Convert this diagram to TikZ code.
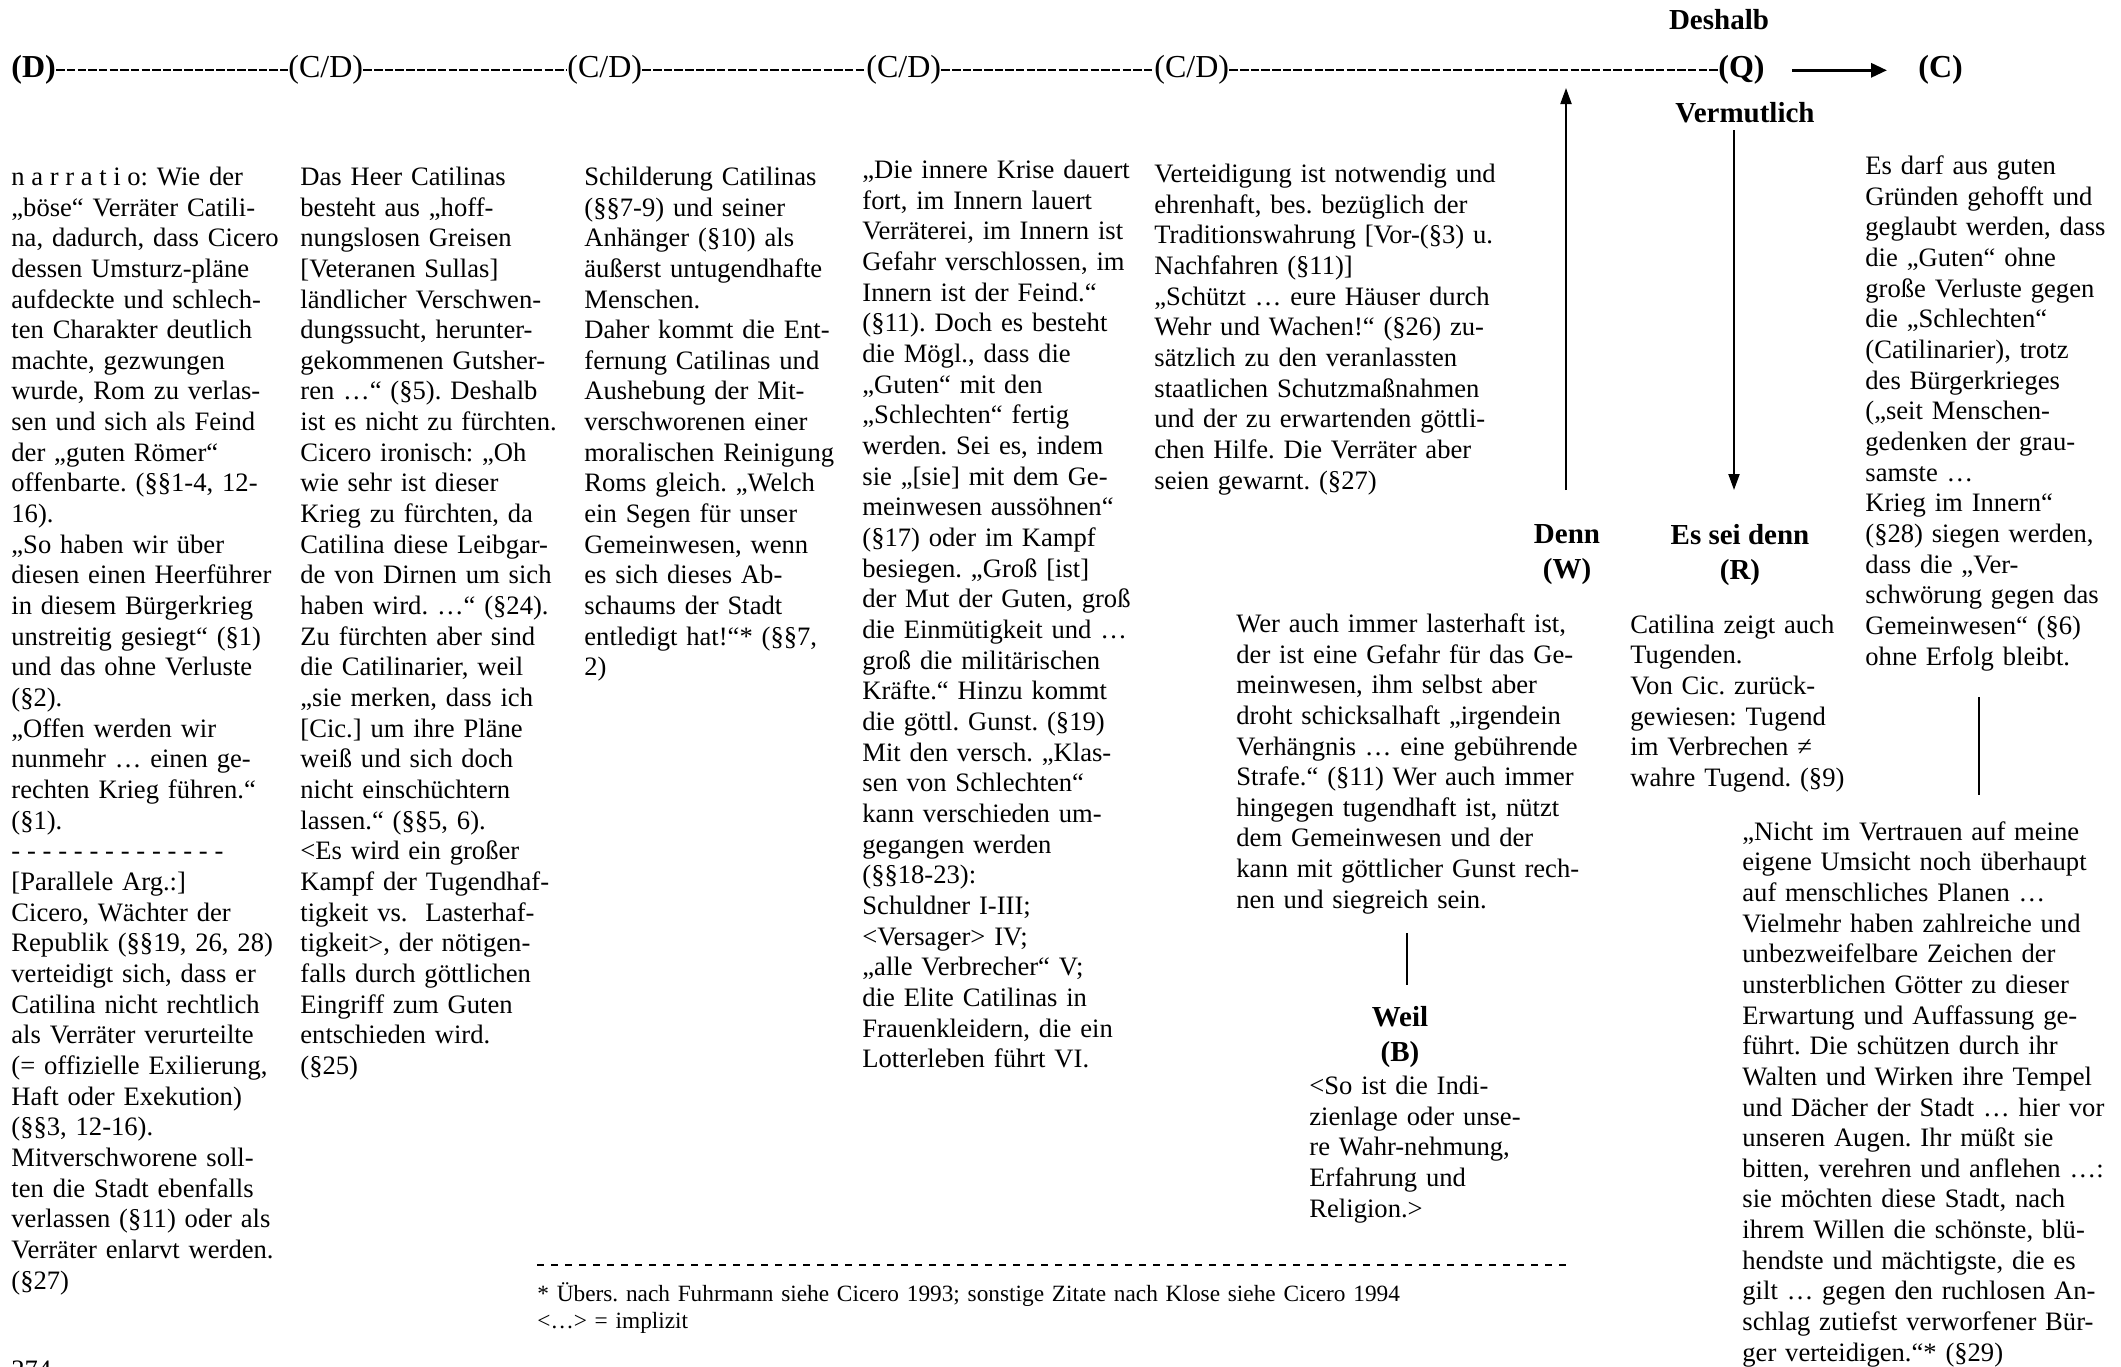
\documentclass[tikz,border=0pt]{standalone}
\usepackage{fontspec}
\setmainfont{Liberation Serif}
\usetikzlibrary{arrows.meta}
\newcommand\lsp{\hspace{0.25em}}
\begin{document}
\frenchspacing
\begin{tikzpicture}[x=0.5pt,y=-0.5pt,
  body/.style={anchor=north west, inner sep=0pt, align=left, text width=190pt, font=\fontsize{13.3}{15.33}\selectfont},
  fnote/.style={anchor=north west, inner sep=0pt, align=left, text width=480pt, font=\fontsize{11.65}{13.5}\selectfont},
  toplab/.style={anchor=west, inner sep=0pt, font=\fontsize{16}{19}\selectfont},
  topbold/.style={toplab, font=\fontsize{16}{19}\selectfont\bfseries},
  boldlab/.style={inner sep=0pt, align=center, font=\fontsize{14.5}{17.5}\selectfont\bfseries},
  hyph/.style={line width=1pt, dash pattern=on 4.2pt off 1.13pt},
  fnline/.style={line width=0.55pt, dash pattern=on 3.3pt off 3.7pt},
  bigarrow/.style={line width=1.6pt, -{Triangle[length=8pt,width=7pt]}},
  varrow/.style={line width=1pt, -{Triangle[length=8pt,width=5.5pt]}},
  vline/.style={line width=1pt}
]
\useasboundingbox (0,0) rectangle (2121,1366);
\fill[white] (0,0) rectangle (2121,1366);

% top row
\node[topbold] (D) at (11,70.3) {(D)};
\node[toplab] (CD1) at (288,70.3) {(C/D)};
\node[toplab] (CD2) at (567,70.3) {(C/D)};
\node[toplab] (CD3) at (866,70.3) {(C/D)};
\node[toplab] (CD4) at (1154,70.3) {(C/D)};
\node[topbold] (Q) at (1718,70.3) {(Q)};
\node[topbold] (C) at (1918,70.3) {(C)};
\draw[hyph] (D.east) -- (CD1.west);
\draw[hyph] (CD1.east) -- (CD2.west);
\draw[hyph] (CD2.east) -- (CD3.west);
\draw[hyph] (CD3.east) -- (CD4.west);
\draw[hyph] (CD4.east) -- (Q.west);
\draw[bigarrow, shorten <=13.5pt, shorten >=15.5pt] (Q.east) -- (C.west);

\node[boldlab] (Desh) at (1719,19.5) {Deshalb};
\node[boldlab] (Verm) at (1745,112.5) {Vermutlich};
\node[boldlab] (W) at (1567,555) {Denn\\(W)};
\node[boldlab] (R) at (1740,555) {Es sei denn\\(R)};
\node[boldlab] (B) at (1400,1037.5) {Weil\\(B)};

\coordinate (wtail) at (1566,490);
\coordinate (wtip) at (1566,88);
\draw[varrow] (wtail) -- (wtip);
\coordinate (vtail) at (1734,130);
\coordinate (vtip) at (1734,490);
\draw[varrow] (vtail) -- (vtip);

% column 1
\node[body] (col1) at (11,163.5) {\strut n\lsp a\lsp r\lsp r\lsp a\lsp t\lsp i\lsp o: Wie der\\
„böse“ Verräter Catili-\\
na, dadurch, dass Cicero\\
dessen Umsturz-pläne\\
aufdeckte und schlech-\\
ten Charakter deutlich\\
machte, gezwungen\\
wurde, Rom zu verlas-\\
sen und sich als Feind\\
der „guten Römer“\\
offenbarte. (§§1-4, 12-\\
16).\\
„So haben wir über\\
diesen einen Heerführer\\
in diesem Bürgerkrieg\\
unstreitig gesiegt“ (§1)\\
und das ohne Verluste\\
(§2).\\
„Offen werden wir\\
nunmehr … einen ge-\\
rechten Krieg führen.“\\
(§1).\\
\leavevmode\hbox to 106pt{-\hfill-\hfill-\hfill-\hfill-\hfill-\hfill-\hfill-\hfill-\hfill-\hfill-\hfill-\hfill-\hfill-}\\
{[}Parallele Arg.:{]}\\
Cicero, Wächter der\\
Republik (§§19, 26, 28)\\
verteidigt sich, dass er\\
Catilina nicht rechtlich\\
als Verräter verurteilte\\
(= offizielle Exilierung,\\
Haft oder Exekution)\\
(§§3, 12-16).\\
Mitverschworene soll-\\
ten die Stadt ebenfalls\\
verlassen (§11) oder als\\
Verräter enlarvt werden.\\
(§27)};

% column 2
\node[body] (col2) at (300,163.5) {\strut Das Heer Catilinas\\
besteht aus „hoff-\\
nungslosen Greisen\\
{[}Veteranen Sullas{]}\\
ländlicher Verschwen-\\
dungssucht, herunter-\\
gekommenen Gutsher-\\
ren …“ (§5). Deshalb\\
ist es nicht zu fürchten.\\
Cicero ironisch: „Oh\\
wie sehr ist dieser\\
Krieg zu fürchten, da\\
Catilina diese Leibgar-\\
de von Dirnen um sich\\
haben wird. …“ (§24).\\
Zu fürchten aber sind\\
die Catilinarier, weil\\
„sie merken, dass ich\\
{[}Cic.{]} um ihre Pläne\\
weiß und sich doch\\
nicht einschüchtern\\
lassen.“ (§§5, 6).\\
<Es wird ein großer\\
Kampf der Tugendhaf-\\
tigkeit vs.~ Lasterhaf-\\
tigkeit>, der nötigen-\\
falls durch göttlichen\\
Eingriff zum Guten\\
entschieden wird.\\
(§25)};

% column 3
\node[body] (col3) at (584,163.5) {\strut Schilderung Catilinas\\
(§§7-9) und seiner\\
Anhänger (§10) als\\
äußerst untugendhafte\\
Menschen.\\
Daher kommt die Ent-\\
fernung Catilinas und\\
Aushebung der Mit-\\
verschworenen einer\\
moralischen Reinigung\\
Roms gleich. „Welch\\
ein Segen für unser\\
Gemeinwesen, wenn\\
es sich dieses Ab-\\
schaums der Stadt\\
entledigt hat!“* (§§7,\\
2)};

% column 4
\node[body] (col4) at (862,156.7) {\strut „Die innere Krise dauert\\
fort, im Innern lauert\\
Verräterei, im Innern ist\\
Gefahr verschlossen, im\\
Innern ist der Feind.“\\
(§11). Doch es besteht\\
die Mögl., dass die\\
„Guten“ mit den\\
„Schlechten“ fertig\\
werden. Sei es, indem\\
sie „{[}sie{]} mit dem Ge-\\
meinwesen aussöhnen“\\
(§17) oder im Kampf\\
besiegen. „Groß {[}ist{]}\\
der Mut der Guten, groß\\
die Einmütigkeit und …\\
groß die militärischen\\
Kräfte.“ Hinzu kommt\\
die göttl. Gunst. (§19)\\
Mit den versch. „Klas-\\
sen von Schlechten“\\
kann verschieden um-\\
gegangen werden\\
(§§18-23):\\
Schuldner I-III;\\
<Versager> IV;\\
„alle Verbrecher“ V;\\
\makebox[130pt][s]{die Elite Catilinas in}\\
\makebox[130pt][s]{Frauenkleidern, die ein}\\
Lotterleben führt VI.};

% column 5
\node[body] (col5) at (1154,160.7) {\strut Verteidigung ist notwendig und\\
ehrenhaft, bes. bezüglich der\\
Traditionswahrung {[}Vor-(§3) u.\\
Nachfahren (§11){]}\\
„Schützt … eure Häuser durch\\
Wehr und Wachen!“ (§26) zu-\\
sätzlich zu den veranlassten\\
staatlichen Schutzmaßnahmen\\
und der zu erwartenden göttli-\\
chen Hilfe. Die Verräter aber\\
seien gewarnt. (§27)};

% W text
\node[body] (Wtext) at (1236,610.5) {\strut Wer auch immer lasterhaft ist,\\
der ist eine Gefahr für das Ge-\\
meinwesen, ihm selbst aber\\
droht schicksalhaft „irgendein\\
Verhängnis … eine gebührende\\
Strafe.“ (§11) Wer auch immer\\
hingegen tugendhaft ist, nützt\\
dem Gemeinwesen und der\\
kann mit göttlicher Gunst rech-\\
nen und siegreich sein.};

% R text
\node[body] (Rtext) at (1630,611.2) {\strut Catilina zeigt auch\\
Tugenden.\\
Von Cic. zurück-\\
gewiesen: Tugend\\
im Verbrechen ≠\\
wahre Tugend. (§9)};

% B text
\node[body] (Btext) at (1309,1072.5) {\strut <So ist die Indi-\\
zienlage oder unse-\\
re Wahr-nehmung,\\
Erfahrung und\\
Religion.>};

% C text
\node[body] (Ctext) at (1865,152.6) {\strut Es darf aus guten\\
Gründen gehofft und\\
geglaubt werden, dass\\
die „Guten“ ohne\\
große Verluste gegen\\
die „Schlechten“\\
(Catilinarier), trotz\\
des Bürgerkrieges\\
(„seit Menschen-\\
gedenken der grau-\\
samste …\\
Krieg im Innern“\\
(§28) siegen werden,\\
dass die „Ver-\\
schwörung gegen das\\
Gemeinwesen“ (§6)\\
ohne Erfolg bleibt.};

% quote
\node[body] (Quote) at (1742,818.2) {\strut „Nicht im Vertrauen auf meine\\
eigene Umsicht noch überhaupt\\
auf menschliches Planen …\\
Vielmehr haben zahlreiche und\\
unbezweifelbare Zeichen der\\
unsterblichen Götter zu dieser\\
Erwartung und Auffassung ge-\\
führt. Die schützen durch ihr\\
Walten und Wirken ihre Tempel\\
und Dächer der Stadt … hier vor\\
unseren Augen. Ihr müßt sie\\
bitten, verehren und anflehen …:\\
sie möchten diese Stadt, nach\\
ihrem Willen die schönste, blü-\\
hendste und mächtigste, die es\\
gilt … gegen den ruchlosen An-\\
schlag zutiefst verworfener Bür-\\
ger verteidigen.“* (§29)};

% plain connector lines
\coordinate (wl1) at (1407,933);
\coordinate (wl2) at (1407,985);
\draw[vline] (wl1) -- (wl2);
\coordinate (cl1) at (1979,697);
\coordinate (cl2) at (1979,795);
\draw[vline] (cl1) -- (cl2);

% footnote
\coordinate (fn1) at (537,1265);
\coordinate (fn2) at (1569,1265);
\draw[fnline] (fn1) -- (fn2);
\node[fnote] (fn) at (537,1282.5) {\strut * Übers. nach Fuhrmann siehe Cicero 1993; sonstige Zitate nach Klose siehe Cicero 1994\\
<…> = implizit};

% page number (cut by page edge)
\node[anchor=base west, inner sep=0pt, font=\fontsize{13.3}{15.33}\selectfont] (pg) at (11,1378) {274};
\end{tikzpicture}
\end{document}
